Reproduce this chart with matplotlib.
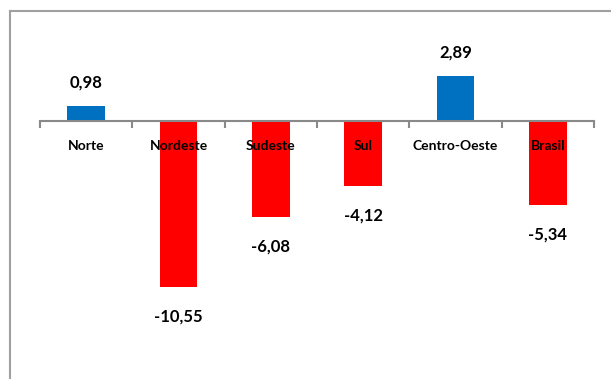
import matplotlib
matplotlib.use("Agg")
import matplotlib.pyplot as plt
from matplotlib.lines import Line2D

# dados
regioes = ["Norte", "Nordeste", "Sudeste", "Sul", "Centro-Oeste", "Brasil"]
valores = [0.98, -10.55, -6.08, -4.12, 2.89, -5.34]
rotulos = ["0,98", "-10,55", "-6,08", "-4,12", "2,89", "-5,34"]

AZUL = "#0070C0"
VERMELHO = "#FF0000"
CINZA = "#898989"

plt.rcParams["font.family"] = ["Lato", "DejaVu Sans"]

fig = plt.figure(figsize=(6.11, 3.79), dpi=100)
ax = fig.add_axes([0, 0, 1, 1])
ax.set_xlim(-0.934, 5.684)
ax.set_ylim(-16.43, 7.71)

x = list(range(len(regioes)))
cores = [AZUL if v >= 0 else VERMELHO for v in valores]
ax.bar(x, valores, width=0.41, color=cores, zorder=1)

# rótulos de valor
for xi, v, r in zip(x, valores, rotulos):
    if v >= 0:
        ax.annotate(r, (xi, v), xytext=(0, 15), textcoords="offset pixels",
                    ha="center", va="bottom", fontsize=12, fontweight="bold")
    else:
        ax.annotate(r, (xi, v), xytext=(0, -22), textcoords="offset pixels",
                    ha="center", va="top", fontsize=12, fontweight="bold")

# eixo horizontal no zero
for s in ["top", "right", "left"]:
    ax.spines[s].set_visible(False)
ax.spines["bottom"].set_position(("data", 0))
ax.spines["bottom"].set_bounds(-0.5, len(regioes) - 0.5)
ax.spines["bottom"].set_color(CINZA)
ax.spines["bottom"].set_linewidth(1.5)
ax.spines["bottom"].set_zorder(2)
ax.set_yticks([])
ax.set_xticks(x)
ax.set_xticklabels(regioes, fontsize=10, fontweight="bold")
ax.set_xticks([i - 0.5 for i in range(len(regioes) + 1)], minor=True)
ax.tick_params(axis="x", which="major", length=0, pad=13.5)
ax.tick_params(axis="x", which="minor", length=5, width=1.5, color=CINZA,
               direction="out")

# moldura do gráfico (só esquerda e topo aparecem)
fig.add_artist(Line2D([10 / 611, 10 / 611], [0, 1 - 11 / 379],
                      transform=fig.transFigure, color="#A0A0A0", lw=1.5))
fig.add_artist(Line2D([10 / 611, 1], [1 - 11 / 379, 1 - 11 / 379],
                      transform=fig.transFigure, color="#A0A0A0", lw=1.5))

fig.savefig("out.png", dpi=100)
